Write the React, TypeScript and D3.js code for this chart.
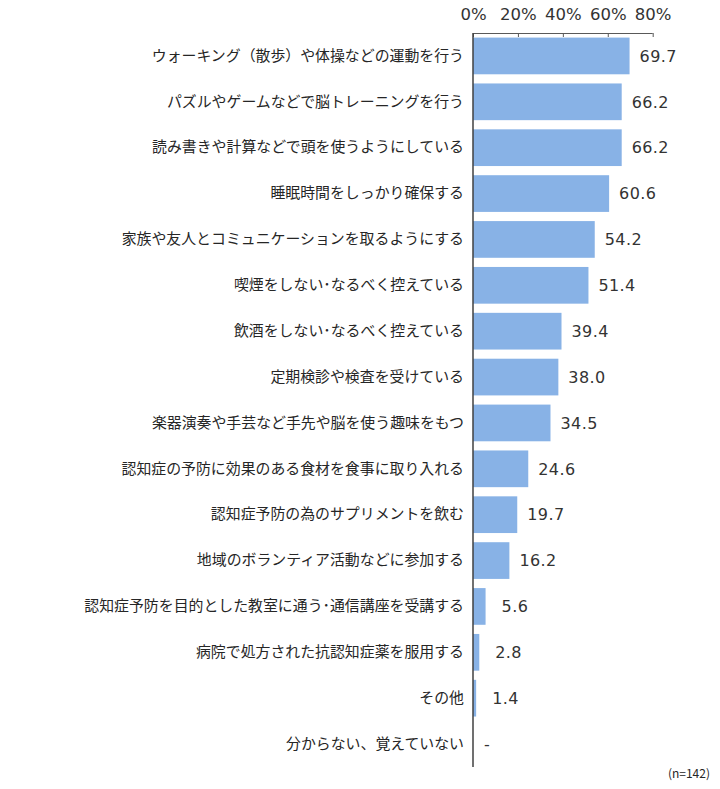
import { useEffect, useRef } from 'react';
import * as d3 from 'd3';

const categories = [
  'ウォーキング（散歩）や体操などの運動を行う',
  'パズルやゲームなどで脳トレーニングを行う',
  '読み書きや計算などで頭を使うようにしている',
  '睡眠時間をしっかり確保する',
  '家族や友人とコミュニケーションを取るようにする',
  '喫煙をしない･なるべく控えている',
  '飲酒をしない･なるべく控えている',
  '定期検診や検査を受けている',
  '楽器演奏や手芸など手先や脳を使う趣味をもつ',
  '認知症の予防に効果のある食材を食事に取り入れる',
  '認知症予防の為のサプリメントを飲む',
  '地域のボランティア活動などに参加する',
  '認知症予防を目的とした教室に通う･通信講座を受講する',
  '病院で処方された抗認知症薬を服用する',
  'その他',
  '分からない、覚えていない',
];

const values: (number | null)[] = [
  69.7, 66.2, 66.2, 60.6, 54.2, 51.4, 39.4, 38.0, 34.5, 24.6, 19.7, 16.2, 5.6, 2.8, 1.4, null,
];

const ticks = [0, 20, 40, 60, 80];
const note = '(n=142)';

export default function App() {
  const svgRef = useRef<SVGSVGElement | null>(null);

  useEffect(() => {
    if (!svgRef.current) return;
    const svg = d3.select(svgRef.current);
    svg.selectAll('*').remove();

    const width = 720;
    const height = 789;
    const x0 = 473;
    const top = 33;
    const bottom = 767;

    const x = d3.scaleLinear().domain([0, 80]).range([x0, 652.7]);
    const y = d3
      .scaleBand()
      .domain(categories)
      .range([top, bottom])
      .paddingInner(0.2)
      .paddingOuter(0.1);

    svg.attr('viewBox', `0 0 ${width} ${height}`);

    const rows = categories.map((c, i) => ({ c, v: values[i] }));

    svg
      .append('g')
      .selectAll('rect')
      .data(rows.filter((d) => d.v !== null))
      .join('rect')
      .attr('x', x(0))
      .attr('y', (d) => y(d.c)!)
      .attr('height', y.bandwidth())
      .attr('width', (d) => x(d.v as number) - x(0))
      .attr('fill', '#88B2E6');

    // top axis
    const ax = svg
      .append('g')
      .attr('transform', `translate(0,${top})`)
      .call(
        d3
          .axisTop(x)
          .tickValues(ticks)
          .tickSize(-4)
          .tickPadding(13)
          .tickFormat((d) => `${d}%`)
      );
    ax.select('.domain').attr('stroke', '#595959').attr('d', `M${x0},0.5H${x(80)}`);
    ax.selectAll('.tick line').attr('stroke', '#595959');
    ax.selectAll('.tick text')
      .attr('fill', '#333')
      .style('font-family', '"DejaVu Sans", Verdana, sans-serif')
      .style('font-size', '16.5px');

    // left axis
    const ay = svg
      .append('g')
      .attr('transform', `translate(${x0},0)`)
      .call(d3.axisLeft(y).tickSize(0).tickPadding(9));
    ay.select('.domain')
      .attr('stroke', '#404040')
      .attr('stroke-width', 1.5)
      .attr('d', `M0,${top}V${bottom}`);
    ay.selectAll('.tick text')
      .attr('fill', '#262626')
      .style('font-family', '"Noto Sans CJK JP", "Noto Sans", sans-serif')
      .style('font-size', '14.9px');

    // value labels
    svg
      .append('g')
      .selectAll('text')
      .data(rows)
      .join('text')
      .attr('x', (d) =>
        d.v === null ? x(0) + 11 : x(d.v) + (d.v < 10 ? 16 : 10)
      )
      .attr('y', (d) => y(d.c)! + y.bandwidth() / 2)
      .attr('dy', '0.36em')
      .attr('fill', '#333')
      .style('font-family', '"DejaVu Sans", Verdana, sans-serif')
      .style('font-size', '16px')
      .style('letter-spacing', '0.4px')
      .text((d) => (d.v === null ? '-' : d.v.toFixed(1)));

    svg
      .append('text')
      .attr('x', 710)
      .attr('y', 778)
      .attr('text-anchor', 'end')
      .attr('fill', '#262626')
      .style('font-family', '"Noto Sans CJK JP", sans-serif')
      .style('font-size', '12px')
      .text(note);
  }, []);

  return (
    <div style={{ position: 'absolute', left: 0, top: 0, background: '#fff' }}>
      <svg ref={svgRef} width={720} height={789} style={{ display: 'block' }} />
    </div>
  );
}
